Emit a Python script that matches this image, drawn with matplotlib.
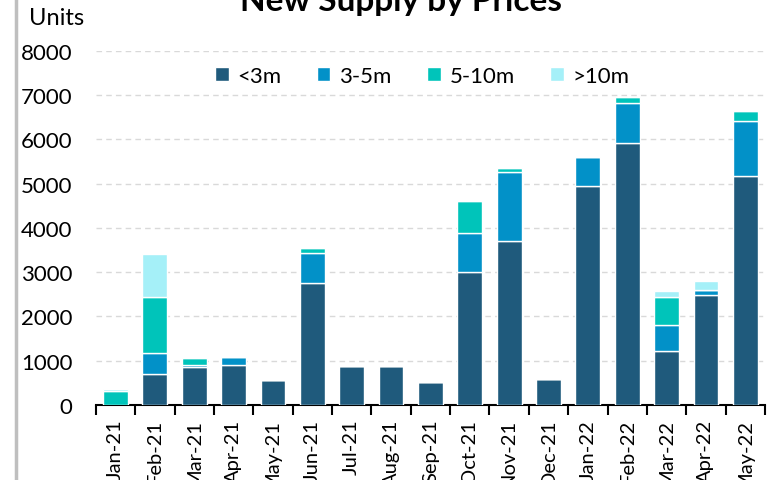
import numpy as np
import matplotlib.pyplot as plt
from matplotlib.lines import Line2D

plt.rcParams['font.family'] = ['Lato', 'DejaVu Sans']

months = ['Jan-21', 'Feb-21', 'Mar-21', 'Apr-21', 'May-21', 'Jun-21', 'Jul-21',
          'Aug-21', 'Sep-21', 'Oct-21', 'Nov-21', 'Dec-21', 'Jan-22', 'Feb-22',
          'Mar-22', 'Apr-22', 'May-22']

# units by price band
under_3m = [0, 690, 850, 910, 570, 2750, 890, 890, 510, 3000, 3700, 590, 4940, 5915, 1230, 2485, 5180]
m3_5 = [0, 480, 60, 170, 0, 690, 0, 0, 0, 895, 1570, 0, 670, 905, 580, 115, 1230]
m5_10 = [320, 1260, 160, 0, 0, 110, 0, 0, 0, 705, 80, 0, 0, 150, 625, 0, 230]
over_10m = [50, 990, 0, 0, 0, 0, 0, 0, 0, 0, 0, 0, 0, 0, 135, 210, 0]

series = [under_3m, m3_5, m5_10, over_10m]
names = ['<3m', '3-5m', '5-10m', '>10m']
colors = ['#1F5A7C', '#0291C8', '#00C4BA', '#A5F0F8']

fig = plt.figure(figsize=(7.79, 4.81), dpi=100)
ax = fig.add_axes([0.123, 0.156, 0.859, 0.736])

x = np.arange(len(months))
bottom = np.zeros(len(months))
for vals, name, col in zip(series, names, colors):
    vals = np.array(vals, dtype=float)
    ax.bar(x, vals, 0.63, bottom=bottom, color=col, edgecolor='white',
           linewidth=1, label=name, zorder=3)
    bottom += vals

ax.set_xlim(-0.5, len(months) - 0.5)
ax.set_ylim(0, 8000)
ax.set_yticks(np.arange(0, 8001, 1000))
ax.yaxis.grid(True, linestyle=(0, (4, 3)), color='#D9D9D9', linewidth=1, zorder=0)
ax.tick_params(axis='y', length=0, labelsize=16, pad=17)

ax.set_xticks(x)
ax.set_xticklabels(months, rotation=90, fontsize=14.5)
ax.set_xticks(np.arange(-0.5, len(months)), minor=True)
ax.tick_params(axis='x', which='major', length=0, pad=10)
ax.tick_params(axis='x', which='minor', length=7, width=1.5, direction='out')

for s in ['left', 'right', 'top']:
    ax.spines[s].set_visible(False)
ax.spines['bottom'].set_linewidth(1.5)

leg = ax.legend(loc='upper center', bbox_to_anchor=(0.488, 1.015), ncol=4, frameon=False,
                fontsize=16, handlelength=0.6, handleheight=0.6, columnspacing=1.6,
                handletextpad=0.4)

fig.text(0.037, 1 - 25 / 481, 'Units', fontsize=17, va='baseline')
fig.text(0.515, 1 - 11 / 481, 'New Supply by Prices', fontsize=24, fontweight='bold',
         ha='center', va='baseline')

fig.add_artist(Line2D([15.5 / 779, 15.5 / 779], [0, 1], color='#BFBFBF', linewidth=2.5))

fig.savefig('out.png', dpi=100)
